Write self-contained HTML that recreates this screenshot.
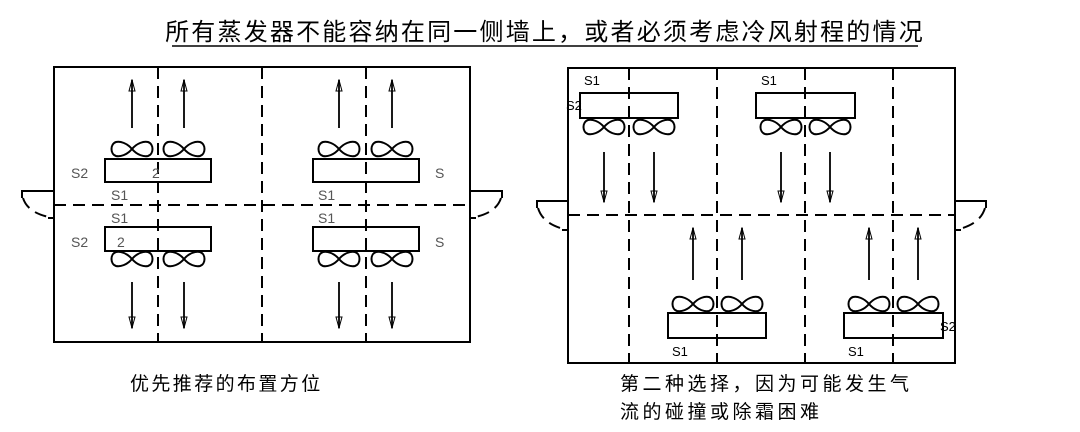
<!DOCTYPE html>
<html><head><meta charset="utf-8"><style>
html,body{margin:0;padding:0;background:#fff;}
svg{display:block;}
text{font-family:"Liberation Sans","Noto Sans CJK SC",sans-serif;}
</style></head><body>
<svg width="1080" height="432" viewBox="0 0 1080 432" xmlns="http://www.w3.org/2000/svg">
<defs>
<path id="fan" d="M0,0 C5,-6 12,-8 16,-7 C22,-5 22,5 16,7 C12,8 5,6 0,0 C-5,-6 -12,-8 -16,-7 C-22,-5 -22,5 -16,7 C-12,8 -5,6 0,0Z" fill="none" stroke="#000" stroke-width="2"/>
<marker id="ah" markerWidth="13" markerHeight="8" refX="12" refY="4" orient="auto" markerUnits="userSpaceOnUse"><path d="M1,1 L12,4 L1,7 Z" fill="none" stroke="#000" stroke-width="1"/></marker>
</defs>
<text x="545" y="40" text-anchor="middle" font-size="24" letter-spacing="2.2" fill="#000" font-family="'Liberation Sans','Noto Sans CJK SC',sans-serif">所有蒸发器不能容纳在同一侧墙上，或者必须考虑冷风射程的情况</text>
<line x1="172" y1="46" x2="918" y2="46" stroke="#000" stroke-width="1.5"/>

<g stroke="#000" fill="none" stroke-width="2">
<rect x="54" y="67" width="416" height="275"/>
<g stroke-dasharray="12,7">
<line x1="158" y1="67" x2="158" y2="342"/>
<line x1="262" y1="67" x2="262" y2="342"/>
<line x1="366" y1="67" x2="366" y2="342"/>
<line x1="54" y1="205" x2="470" y2="205"/>
<path d="M23,198 Q28,214 54,218"/>
<path d="M501,198 Q496,214 470,218"/>
</g>
<path d="M54,191 H22 V198"/><line x1="54" y1="218" x2="48" y2="218"/>
<path d="M470,191 H502 V198"/><line x1="470" y1="218" x2="476" y2="218"/>
<rect x="105" y="159" width="106" height="23"/>
<rect x="105" y="227" width="106" height="24"/>
<rect x="313" y="159" width="106" height="23"/>
<rect x="313" y="227" width="106" height="24"/>
<g stroke-width="1.8">
<line x1="132" y1="128" x2="132" y2="80" marker-end="url(#ah)"/>
<line x1="184" y1="128" x2="184" y2="80" marker-end="url(#ah)"/>
<line x1="339" y1="128" x2="339" y2="80" marker-end="url(#ah)"/>
<line x1="392" y1="128" x2="392" y2="80" marker-end="url(#ah)"/>
<line x1="132" y1="282" x2="132" y2="328" marker-end="url(#ah)"/>
<line x1="184" y1="282" x2="184" y2="328" marker-end="url(#ah)"/>
<line x1="339" y1="282" x2="339" y2="328" marker-end="url(#ah)"/>
<line x1="392" y1="282" x2="392" y2="328" marker-end="url(#ah)"/>
</g>
<rect x="568" y="68" width="387" height="295"/>
<g stroke-dasharray="12,7">
<line x1="629" y1="68" x2="629" y2="363"/>
<line x1="717" y1="68" x2="717" y2="363"/>
<line x1="805" y1="68" x2="805" y2="363"/>
<line x1="893" y1="68" x2="893" y2="363"/>
<line x1="568" y1="215" x2="955" y2="215"/>
<path d="M538,208 Q543,225 568,230"/>
<path d="M985,208 Q980,225 955,230"/>
</g>
<path d="M568,201 H537 V208"/><line x1="568" y1="230" x2="562" y2="230"/>
<path d="M955,201 H986 V208"/><line x1="955" y1="230" x2="961" y2="230"/>
<rect x="580" y="93" width="98" height="25"/>
<rect x="756" y="93" width="99" height="25"/>
<rect x="668" y="313" width="98" height="25"/>
<rect x="844" y="313" width="99" height="25"/>
<g stroke-width="1.8">
<line x1="604" y1="152" x2="604" y2="202" marker-end="url(#ah)"/>
<line x1="654" y1="152" x2="654" y2="202" marker-end="url(#ah)"/>
<line x1="781" y1="152" x2="781" y2="202" marker-end="url(#ah)"/>
<line x1="830" y1="152" x2="830" y2="202" marker-end="url(#ah)"/>
<line x1="693" y1="280" x2="693" y2="228" marker-end="url(#ah)"/>
<line x1="742" y1="280" x2="742" y2="228" marker-end="url(#ah)"/>
<line x1="869" y1="280" x2="869" y2="228" marker-end="url(#ah)"/>
<line x1="918" y1="280" x2="918" y2="228" marker-end="url(#ah)"/>
</g>
</g>
<use href="#fan" x="132" y="149"/><use href="#fan" x="184" y="149"/>
<use href="#fan" x="339" y="149"/><use href="#fan" x="392" y="149"/>
<use href="#fan" x="132" y="259"/><use href="#fan" x="184" y="259"/>
<use href="#fan" x="339" y="259"/><use href="#fan" x="392" y="259"/>
<use href="#fan" x="604" y="127"/><use href="#fan" x="654" y="127"/>
<use href="#fan" x="781" y="127"/><use href="#fan" x="830" y="127"/>
<use href="#fan" x="693" y="304"/><use href="#fan" x="742" y="304"/>
<use href="#fan" x="869" y="304"/><use href="#fan" x="918" y="304"/>

<g font-size="14" fill="#555">
<text x="71" y="178">S2</text><text x="152" y="178">2</text>
<text x="111" y="200">S1</text><text x="111" y="223">S1</text>
<text x="71" y="247">S2</text><text x="117" y="247">2</text>
<text x="318" y="200">S1</text><text x="318" y="223">S1</text>
<text x="435" y="178">S</text><text x="435" y="247">S</text>
</g>
<g font-size="13" fill="#000">
<text x="584" y="85">S1</text><text x="566" y="110">S2</text>
<text x="761" y="85">S1</text>
<text x="672" y="356">S1</text><text x="848" y="356">S1</text>
<text x="940" y="331">S2</text>
</g>
<g font-size="19" fill="#000" font-family="'Liberation Serif','Noto Serif CJK SC',serif">
<text x="130" y="390" letter-spacing="2.4">优先推荐的布置方位</text>
<text x="620" y="390" letter-spacing="3.5">第二种选择，因为可能发生气</text>
<text x="620" y="418" letter-spacing="3.5">流的碰撞或除霜困难</text>
</g>
</svg>
</body></html>
